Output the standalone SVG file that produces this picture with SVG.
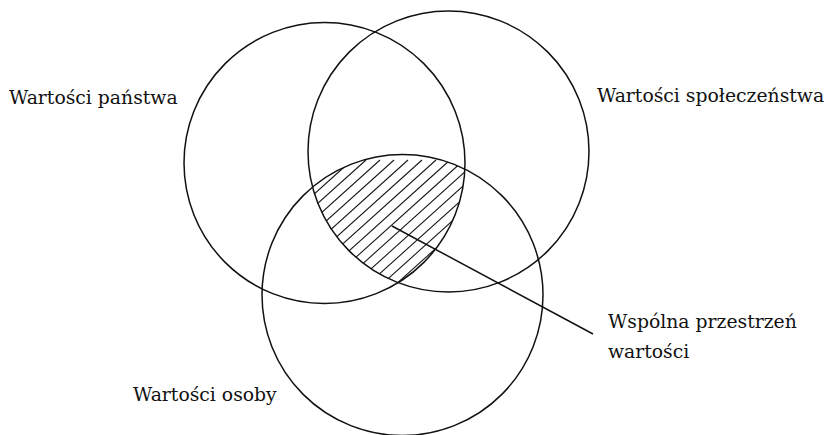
<svg xmlns="http://www.w3.org/2000/svg" width="833" height="435" viewBox="0 0 833 435">
<style>
.c{fill:none;stroke:#111;stroke-width:1.5}
.h{fill:none;stroke:#1a1a1a;stroke-width:1.1}
text{font-family:'DejaVu Serif',serif;font-size:18.8px;fill:#111}
</style>
<defs>
<clipPath id="cL"><circle cx="324.5" cy="163" r="140.5"/></clipPath>
<clipPath id="cR"><circle cx="448.5" cy="151.5" r="140.5"/></clipPath>
<clipPath id="cB"><circle cx="402.5" cy="295" r="140.5"/></clipPath>
</defs>
<rect width="833" height="435" fill="#fff"/>
<g id="hatch" clip-path="url(#cL)"><g clip-path="url(#cR)"><g clip-path="url(#cB)">
<path class="h" d="M160,295l150,-135M174,295l150,-135M188,295l150,-135M202,295l150,-135M216,295l150,-135M230,295l150,-135M244,295l150,-135M258,295l150,-135M272,295l150,-135M286,295l150,-135M300,295l150,-135M314,295l150,-135M328,295l150,-135M342,295l150,-135M356,295l150,-135M370,295l150,-135M384,295l150,-135M398,295l150,-135M412,295l150,-135M426,295l150,-135M440,295l150,-135M454,295l150,-135M468,295l150,-135"/>
</g></g></g>
<g id="panstwo"><circle class="c" cx="324.5" cy="163" r="140.5"/><text x="9" y="104">Wartości państwa</text></g>
<g id="spoleczenstwo"><circle class="c" cx="448.5" cy="151.5" r="140.5"/><text x="597" y="102">Wartości społeczeństwa</text></g>
<g id="osoba"><circle class="c" cx="402.5" cy="295" r="140.5"/><text x="133" y="401">Wartości osoby</text></g>
<g id="wspolna"><text x="608" y="328">Wspólna przestrzeń</text><text x="608" y="358">wartości</text></g>
<g id="connectors"><line class="c" x1="392" y1="226" x2="593" y2="334"/></g>
</svg>
